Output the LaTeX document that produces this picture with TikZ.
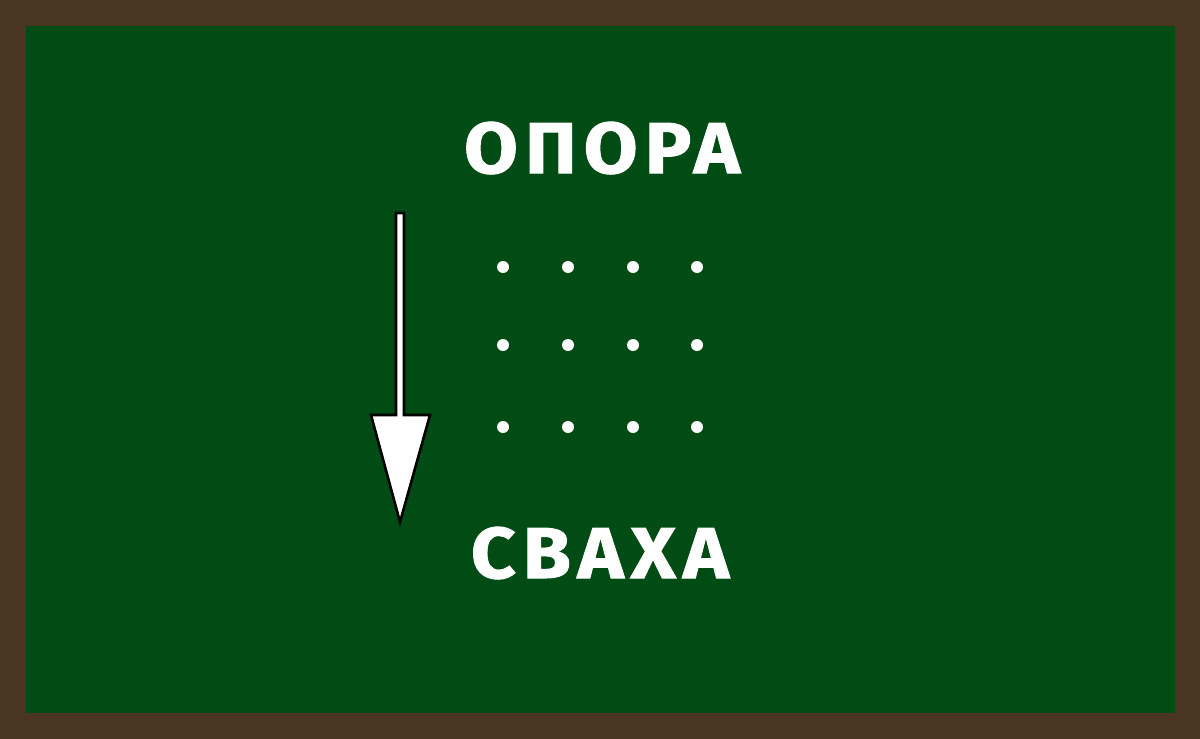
\documentclass[tikz,border=0pt]{standalone}
\usepackage{fontspec}
\setmainfont{Fira Sans}
\newfontfamily\wordfont[LetterSpace=10, FakeStretch=1.08, FakeBold=1.5]{Fira Sans}
\definecolor{boardbrown}{RGB}{74,53,34}
\definecolor{boardgreen}{RGB}{0,76,20}
\tikzset{
  word/.style={text=white, font=\wordfont\bfseries\fontsize{72}{72}\selectfont, inner sep=0pt, anchor=base},
  dot/.style={circle, fill=white, inner sep=0pt, minimum size=12pt},
  arrowshape/.style={fill=white, draw=black, line width=2.6pt, line join=miter}
}
\begin{document}
\begin{tikzpicture}[x=1pt,y=-1pt]
  \fill[boardbrown] (0,0) rectangle (1200,739);
  \fill[boardgreen] (26,26) rectangle (1175,713);
  \useasboundingbox (0,0) rectangle (1200,739);
  \node[word] (top) at (602,173) {ОПОРА};
  \node[word] (bottom) at (600,578) {СВАХА};
  \foreach \y [count=\r] in {267,345,427}{
    \foreach \x [count=\c] in {503,568,633,697}{
      \node[dot] (d\r\c) at (\x,\y) {};
    }
  }
  \draw[arrowshape] (396,213) -- (404,213) -- (404,415) -- (430,415) -- (400,522) -- (371,415) -- (396,415) -- cycle;
\end{tikzpicture}
\end{document}
